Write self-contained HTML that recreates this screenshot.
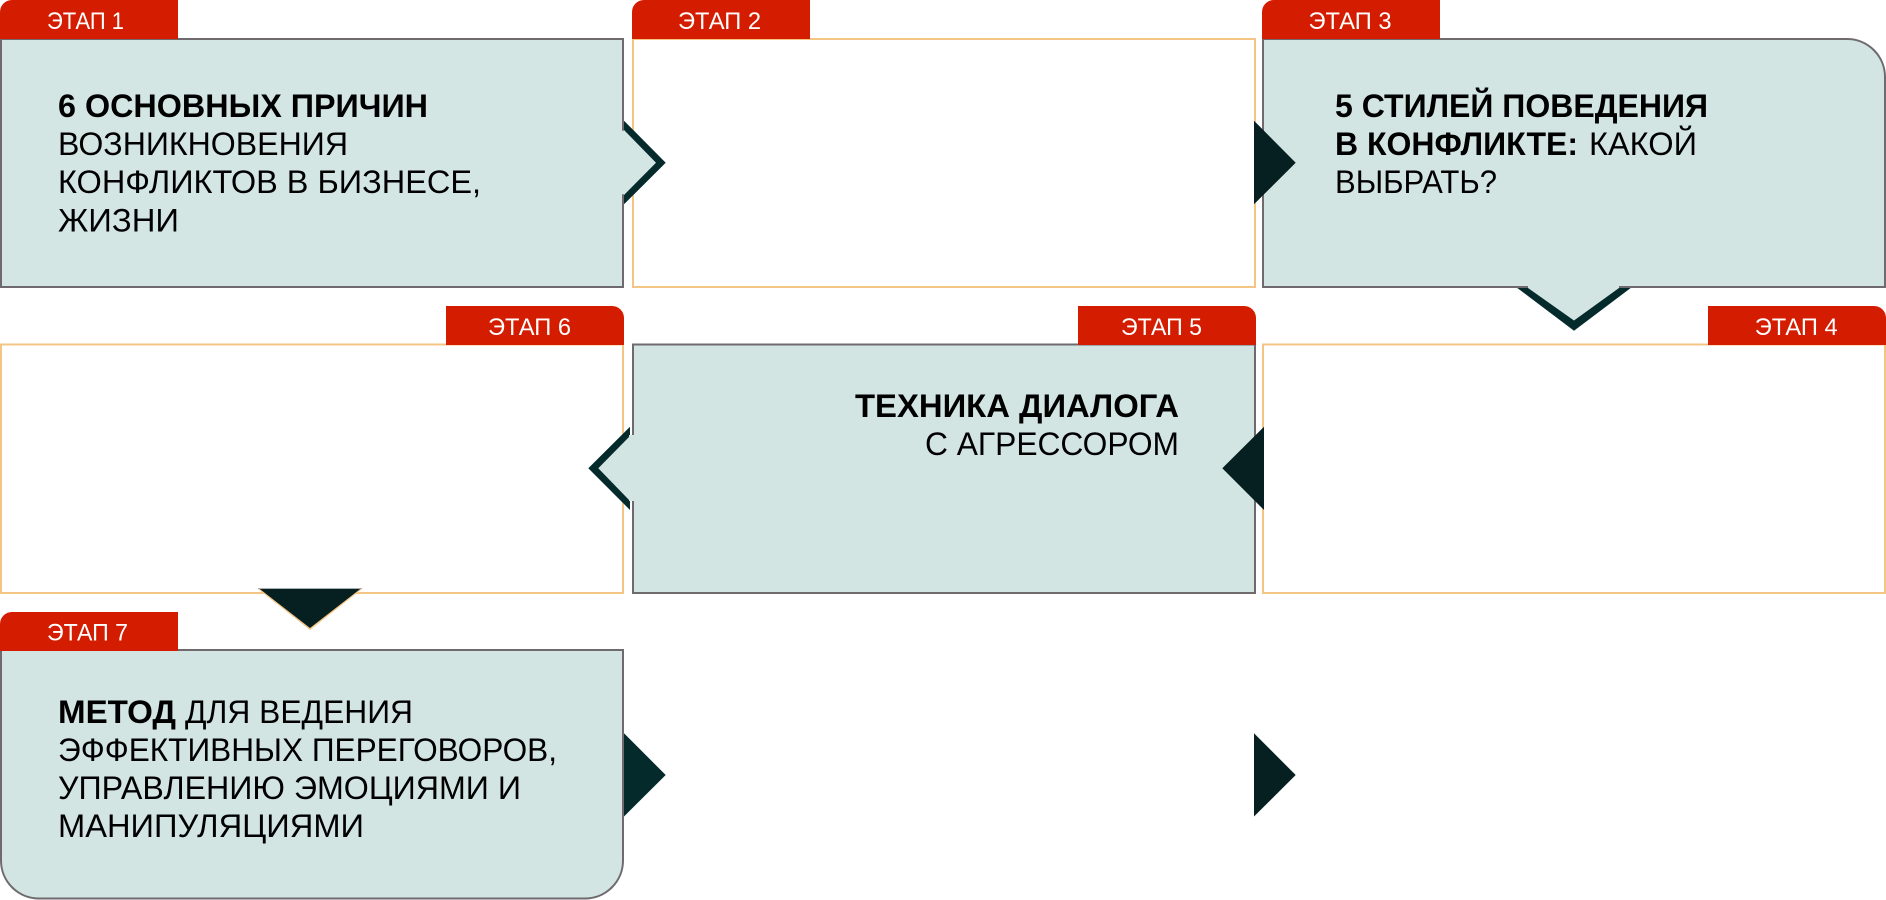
<!DOCTYPE html>
<html lang="ru">
<head>
<meta charset="utf-8">
<title>Этапы</title>
<style>
html,body{margin:0;padding:0;background:#fff;width:1886px;height:900px;overflow:hidden}
svg{display:block}
text{font-family:"Liberation Sans",sans-serif;font-size:32px;fill:#000}
.b{font-weight:700}
.t{font-size:24.5px;fill:#fff}
</style>
</head>
<body>
<svg width="1886" height="900" viewBox="0 0 1886 900" xmlns="http://www.w3.org/2000/svg">
<!-- boxes -->
<rect x="1" y="39" width="622" height="248" fill="#d3e6e4" stroke="#6e6a6e" stroke-width="2"/>
<rect x="633" y="39" width="622" height="248" fill="#fff" stroke="#f5c585" stroke-width="2"/>
<path d="M1263 39H1847A38 38 0 0 1 1885 77V287H1263Z" fill="#d2e5e3" stroke="#6e6a6e" stroke-width="2"/>
<rect x="1" y="344.5" width="622" height="248.5" fill="#fff" stroke="#f5c585" stroke-width="2"/>
<rect x="633" y="344.5" width="622" height="248.5" fill="#d2e5e3" stroke="#6e6a6e" stroke-width="2"/>
<rect x="1263" y="344.5" width="622" height="248.5" fill="#fff" stroke="#f5c585" stroke-width="2"/>
<path d="M1 650H623V860.5A38 38 0 0 1 585 898.5H39A38 38 0 0 1 1 860.5Z" fill="#d2e5e3" stroke="#6e6a6e" stroke-width="2"/>

<!-- tags -->
<g fill="#d41c00">
<path d="M0 39V12A12 12 0 0 1 12 0H178V39Z"/>
<path d="M632 39V12A12 12 0 0 1 644 0H810V39Z"/>
<path d="M1262 39V12A12 12 0 0 1 1274 0H1440V39Z"/>
<path d="M446 345V306H612A12 12 0 0 1 624 318V345Z"/>
<path d="M1078 345V306H1244A12 12 0 0 1 1256 318V345Z"/>
<path d="M1708 345V306H1874A12 12 0 0 1 1886 318V345Z"/>
<path d="M0 651V624A12 12 0 0 1 12 612H178V651Z"/>
</g>

<!-- chevrons -->
<polygon points="624,120.7 665.7,162.7 624,204.3" fill="#042a2c"/>
<rect x="621" y="130.7" width="4" height="63.6" fill="#d3e6e4"/>
<polygon points="624,130 656,162.7 624,195" fill="#d3e6e4"/>

<polygon points="1254,120.7 1295.7,162.7 1254,204.3" fill="#061f20"/>

<polygon points="1517.3,288 1574,330.7 1630.7,288" fill="#042a2c"/>
<polygon points="1528,285 1528,288 1574,320.5 1619,288 1619,285" fill="#d2e5e3"/>

<polygon points="1264,426.7 1222.3,468.3 1264,510" fill="#061f20"/>

<polygon points="630,426.7 588.3,468.3 630,510" fill="#042a2c"/>
<polygon points="630,436 598.3,468.3 630,501" fill="#d2e5e3"/>
<rect x="629" y="435" width="6" height="66" fill="#d2e5e3"/>

<polygon points="258,589 362,589 310,630" fill="#f5c585"/>
<polygon points="259.8,589 360.2,589 310,628" fill="#061f20"/>
<rect x="258" y="588" width="104" height="1" fill="#a9aeb0"/>

<polygon points="624,733.3 665.7,775 624,816.5" fill="#042a2c"/>
<polygon points="1254,733.3 1295.7,775 1254,816.5" fill="#061f20"/>

<!-- tag labels -->
<text class="t" x="47" y="29" textLength="77" lengthAdjust="spacingAndGlyphs">ЭТАП 1</text>
<text class="t" x="678" y="29" textLength="83" lengthAdjust="spacingAndGlyphs">ЭТАП 2</text>
<text class="t" x="1308.5" y="29" textLength="83" lengthAdjust="spacingAndGlyphs">ЭТАП 3</text>
<text class="t" x="488" y="335" textLength="83" lengthAdjust="spacingAndGlyphs">ЭТАП 6</text>
<text class="t" x="1121" y="335" textLength="81" lengthAdjust="spacingAndGlyphs">ЭТАП 5</text>
<text class="t" x="1754.7" y="335" textLength="83" lengthAdjust="spacingAndGlyphs">ЭТАП 4</text>
<text class="t" x="47" y="640.5" textLength="81" lengthAdjust="spacingAndGlyphs">ЭТАП 7</text>

<!-- box 1 -->
<text class="b" x="58" y="117" textLength="370" lengthAdjust="spacingAndGlyphs">6 ОСНОВНЫХ ПРИЧИН</text>
<text x="58" y="155" textLength="290" lengthAdjust="spacingAndGlyphs">ВОЗНИКНОВЕНИЯ</text>
<text x="58" y="193" textLength="423" lengthAdjust="spacingAndGlyphs">КОНФЛИКТОВ В БИЗНЕСЕ,</text>
<text x="58" y="231.5" textLength="121" lengthAdjust="spacingAndGlyphs">ЖИЗНИ</text>

<!-- box 3 -->
<text class="b" x="1335" y="117" textLength="373" lengthAdjust="spacingAndGlyphs">5 СТИЛЕЙ ПОВЕДЕНИЯ</text>
<text class="b" x="1335" y="155" textLength="243" lengthAdjust="spacingAndGlyphs">В КОНФЛИКТЕ:</text>
<text x="1589" y="155" textLength="108" lengthAdjust="spacingAndGlyphs">КАКОЙ</text>
<text x="1335" y="193" textLength="162" lengthAdjust="spacingAndGlyphs">ВЫБРАТЬ?</text>

<!-- box 5 -->
<text class="b" x="855" y="417" textLength="324" lengthAdjust="spacingAndGlyphs">ТЕХНИКА ДИАЛОГА</text>
<text x="925" y="455" textLength="254" lengthAdjust="spacingAndGlyphs">С АГРЕССОРОМ</text>

<!-- box 7 -->
<text class="b" x="58" y="723" textLength="118" lengthAdjust="spacingAndGlyphs">МЕТОД</text>
<text x="185" y="723" textLength="228" lengthAdjust="spacingAndGlyphs">ДЛЯ ВЕДЕНИЯ</text>
<text x="58" y="761" textLength="499" lengthAdjust="spacingAndGlyphs">ЭФФЕКТИВНЫХ ПЕРЕГОВОРОВ,</text>
<text x="58" y="799" textLength="463" lengthAdjust="spacingAndGlyphs">УПРАВЛЕНИЮ ЭМОЦИЯМИ И</text>
<text x="58" y="837" textLength="306" lengthAdjust="spacingAndGlyphs">МАНИПУЛЯЦИЯМИ</text>
</svg>
</body>
</html>
